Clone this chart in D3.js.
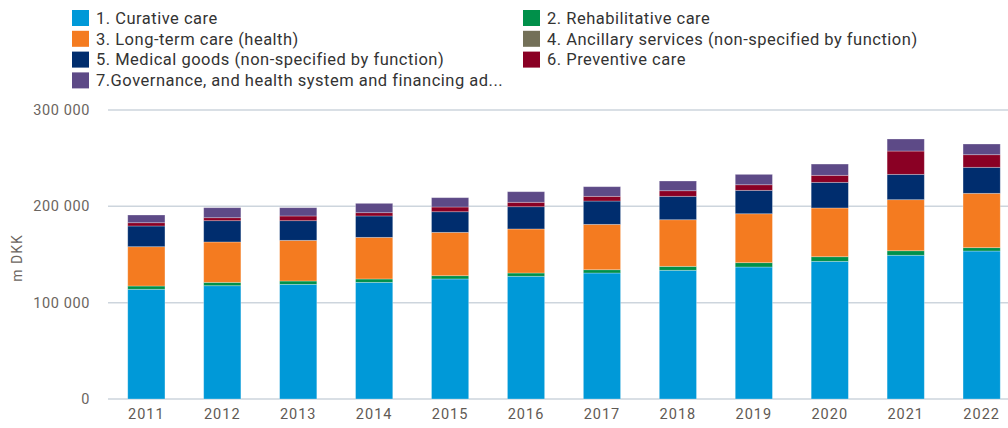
<!DOCTYPE html>
<html>
<head>
<meta charset="utf-8">
<script src="https://cdn.jsdelivr.net/npm/d3@7"></script>
<style>
  body { margin: 0; background: #fff; }
  svg { display: block; font-family: Roboto, "Open Sans", sans-serif; }
</style>
</head>
<body>
<div class="chart"></div>
<script>
// data (m DKK)
var years = ["2011", "2012", "2013", "2014", "2015", "2016", "2017", "2018", "2019", "2020", "2021", "2022"];
var curative = [113900, 117600, 119000, 121100, 124600, 127400, 130800, 133600, 137000, 142900, 149200, 153600];
var rehab = [3400, 3500, 3500, 3500, 3400, 3400, 3400, 4100, 4500, 4800, 4700, 3500];
var longTerm = [40800, 41900, 42200, 43200, 45000, 45700, 47100, 48400, 50800, 50600, 53000, 56400];
var ancillary = [0, 0, 0, 0, 0, 0, 0, 0, 0, 0, 0, 0];
var medical = [21500, 22100, 20400, 22200, 21400, 23100, 24200, 24300, 24300, 26600, 26300, 27000];
var preventive = [3400, 3100, 4900, 3400, 4900, 4600, 4900, 5800, 5800, 7300, 24200, 13100];
var governance = [8000, 10400, 8600, 9700, 9700, 11000, 10000, 10100, 10800, 11700, 12500, 11100];
var yTicks = [0, 100000, 200000, 300000];

var seriesNames = [
  "1. Curative care",
  "2. Rehabilitative care",
  "3. Long-term care (health)",
  "4. Ancillary services (non-specified by function)",
  "5. Medical goods (non-specified by function)",
  "6. Preventive care",
  "7.Governance, and health system and financing ad..."
];
var seriesValues = [curative, rehab, longTerm, ancillary, medical, preventive, governance];
var colors = ["#0099d8", "#00904a", "#f47b20", "#737058", "#002d6e", "#8a0024", "#5d4a87"];

var svgWidth = 1008;
var svgHeight = 428;

var svg = d3.select(".chart")
  .append("svg")
  .attr("width", svgWidth)
  .attr("height", svgHeight);

// build rows for the stack
var keys = d3.range(seriesNames.length).map(String);
var rows = years.map(function(y, i) {
  var row = { year: y };
  keys.forEach(function(k) { row[k] = seriesValues[+k][i]; });
  return row;
});
var stacked = d3.stack().keys(keys)(rows);

// scales (plot runs off the right edge like the original)
var x = d3.scaleBand()
  .domain(years)
  .range([108, 1020])
  .paddingInner(0.51)
  .paddingOuter(0.26);

var y = d3.scaleLinear()
  .domain([0, 300000])
  .range([399, 110]);

// gridlines
svg.append("g")
  .selectAll("line")
  .data(yTicks)
  .enter()
  .append("line")
  .attr("x1", 108)
  .attr("x2", svgWidth)
  .attr("y1", d => y(d))
  .attr("y2", d => y(d))
  .attr("stroke", "#cdd5dd")
  .attr("stroke-width", 1.5);

// y axis labels
var fmt = function(d) { return d3.format(",")(d).replace(/,/g, " "); };
svg.append("g")
  .selectAll("text")
  .data(yTicks)
  .enter()
  .append("text")
  .attr("x", 90)
  .attr("y", d => y(d))
  .attr("dy", "0.35em")
  .attr("text-anchor", "end")
  .attr("fill", "#6b6560")
  .style("font-size", "14.5px")
  .style("letter-spacing", "0.6px")
  .text(fmt);

svg.append("text")
  .attr("transform", "translate(22, 258) rotate(-90)")
  .attr("text-anchor", "middle")
  .attr("fill", "#6b6560")
  .style("font-size", "14px")
  .style("letter-spacing", "1px")
  .text("m DKK");

// bars
svg.append("g")
  .selectAll("g")
  .data(stacked)
  .enter()
  .append("g")
  .attr("fill", (d, i) => colors[i])
  .selectAll("rect")
  .data(d => d)
  .enter()
  .append("rect")
  .attr("x", d => x(d.data.year))
  .attr("width", x.bandwidth())
  .attr("y", d => y(d[1]))
  .attr("height", d => y(d[0]) - y(d[1]))
  .attr("stroke", "#ffffff")
  .attr("stroke-opacity", 0.35)
  .attr("stroke-width", 0.8);

// x axis labels
svg.append("g")
  .selectAll("text")
  .data(years)
  .enter()
  .append("text")
  .attr("x", d => x(d) + x.bandwidth() / 2)
  .attr("y", 414)
  .attr("dy", "0.35em")
  .attr("text-anchor", "middle")
  .attr("fill", "#5f5a55")
  .style("font-size", "14.5px")
  .style("letter-spacing", "1px")
  .text(d => d);

// legend, two columns, filled row by row
var legend = svg.append("g")
  .selectAll("g")
  .data(seriesNames)
  .enter()
  .append("g")
  .attr("transform", function(d, i) {
    var col = i % 2;
    var row = Math.floor(i / 2);
    return `translate(${col === 0 ? 72 : 523}, ${10 + row * 20.8})`;
  });

legend.append("rect")
  .attr("width", 17)
  .attr("height", 16)
  .attr("fill", (d, i) => colors[i]);

legend.append("text")
  .attr("x", 24)
  .attr("y", 8)
  .attr("dy", "0.35em")
  .attr("fill", "#333")
  .style("font-size", "16.5px")
  .style("letter-spacing", "0.5px")
  .text(d => d);
</script>
</body>
</html>
